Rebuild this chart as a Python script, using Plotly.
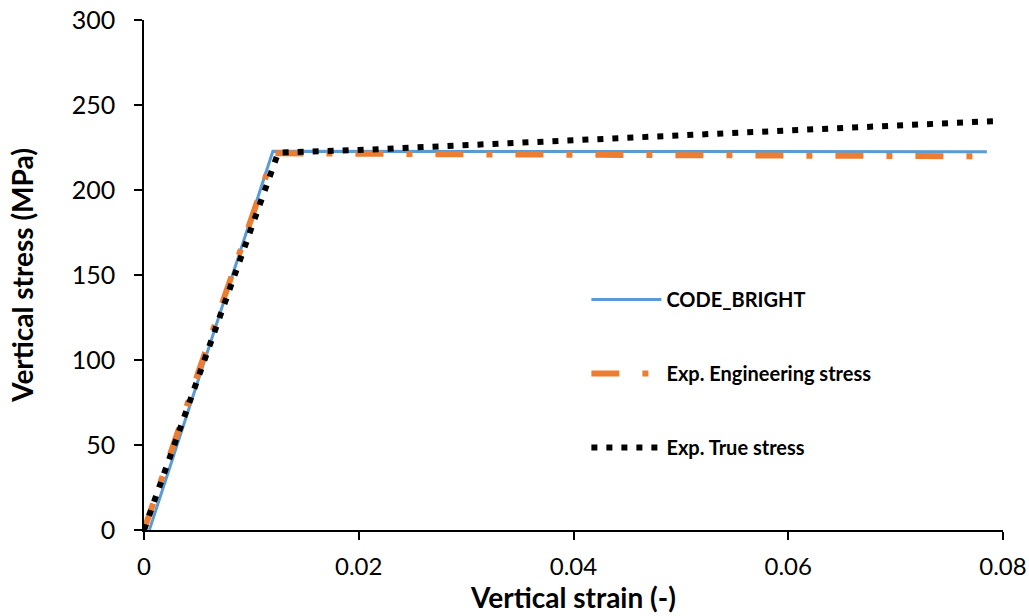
import plotly.graph_objects as go

# CODE_BRIGHT simulation
cb_strain = [0.0005, 0.0120, 0.0785]
cb_stress = [0.0, 222.8, 222.5]

# Experimental engineering stress
eng_strain = [0.0, 0.0121, 0.0300, 0.0550, 0.0780]
eng_stress = [0.0, 221.6, 221.0, 220.5, 219.8]

# Experimental true stress
true_strain = [0.0, 0.0125, 0.0200, 0.0335, 0.0557, 0.0794]
true_stress = [0.0, 222.0, 223.5, 227.5, 234.0, 240.6]

x_ticks = [0, 0.02, 0.04, 0.06, 0.08]
x_labels = ["0", "0.02", "0.04", "0.06", "0.08"]
y_ticks = [0, 50, 100, 150, 200, 250, 300]

FONT = "Lato"

fig = go.Figure()
fig.add_trace(go.Scatter(x=cb_strain, y=cb_stress, mode="lines", name="CODE_BRIGHT",
                         legendgroup="a",
                         line=dict(color="#5B9BD5", width=3)))
fig.add_trace(go.Scatter(x=eng_strain, y=eng_stress, mode="lines", name="Exp. Engineering stress",
                         legendgroup="b",
                         line=dict(color="#ED7D31", width=6, dash="28px,23px,6px,23px")))
fig.add_trace(go.Scatter(x=true_strain, y=true_stress, mode="lines", name="Exp. True stress",
                         legendgroup="c",
                         line=dict(color="#000000", width=6, dash="6px,9px")))

fig.update_layout(
    width=1029, height=616,
    margin=dict(l=144, r=26, t=20, b=86),
    paper_bgcolor="white", plot_bgcolor="white",
    font=dict(family=FONT, size=25, color="#000000"),
    legend=dict(x=0.515, y=0.49, xanchor="left", yanchor="top",
                font=dict(family=FONT, size=20, weight="bold"),
                itemwidth=70,
                tracegroupgap=45, bgcolor="rgba(0,0,0,0)"),
    xaxis=dict(range=[0, 0.08], tickvals=x_ticks, ticktext=x_labels, automargin=False,
               showgrid=False, zeroline=False, showline=True, linecolor="#000000", linewidth=1.5,
               ticks="outside", ticklen=8, tickwidth=1.5, tickcolor="#000000",
               ticklabelstandoff=6, ticklabeloverflow="allow", tickfont=dict(size=24),
               title=dict(text="<b>Vertical strain (-)</b>", font=dict(size=28), standoff=7)),
    yaxis=dict(range=[0, 300], tickvals=y_ticks, automargin=False,
               showgrid=False, zeroline=False, showline=True, linecolor="#000000", linewidth=1.5,
               ticks="outside", ticklen=8, tickwidth=1.5, tickcolor="#000000",
               ticklabelstandoff=14, ticklabeloverflow="allow",
               title=dict(text="<b>Vertical stress (MPa)</b>", font=dict(size=28), standoff=30)),
)

# remove the default page margin so the figure fills the window exactly
fig.write_html("out.html", config={"displayModeBar": False},
               post_script="document.body.style.margin='0';document.body.style.overflow='hidden';")
